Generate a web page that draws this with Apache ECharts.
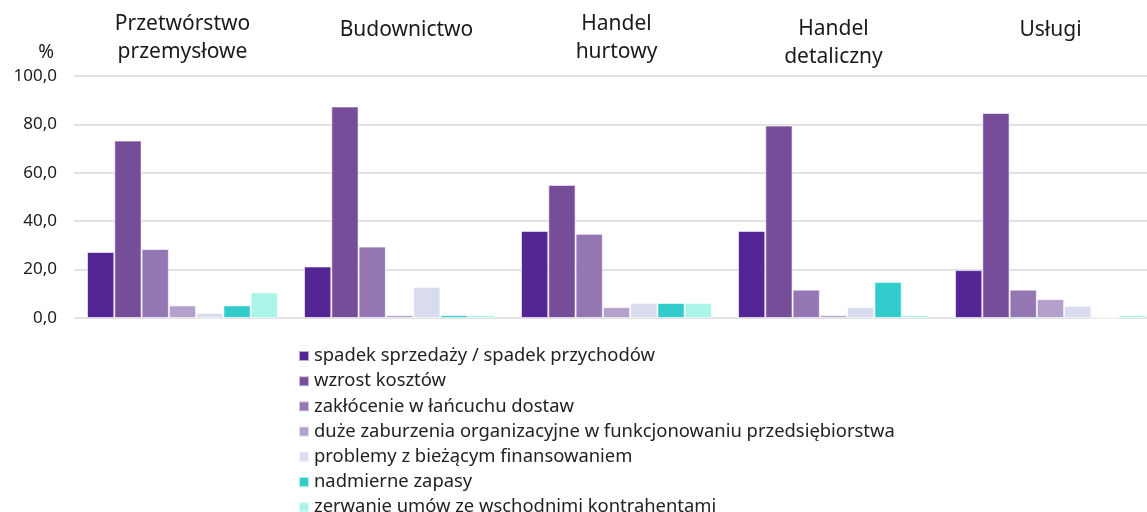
<!DOCTYPE html>
<html>
<head>
    <meta charset="utf-8">
    <title>Problemy przedsiębiorstw</title>
    <script src="https://cdn.jsdelivr.net/npm/echarts@6/dist/echarts.min.js"></script>
</head>
<body style="margin:0">
<div id="main" style="width:1147px;height:512px;"></div>
<script type="text/javascript">
    // sekcje (kategorie)
    var sekcje = ['Przetwórstwo\nprzemysłowe', 'Budownictwo', 'Handel\nhurtowy', 'Handel\ndetaliczny', 'Usługi'];

    // nazwy serii
    var nazwy = [
        'spadek sprzedaży / spadek przychodów',
        'wzrost kosztów',
        'zakłócenie w łańcuchu dostaw',
        'duże zaburzenia organizacyjne w funkcjonowaniu przedsiębiorstwa',
        'problemy z bieżącym finansowaniem',
        'nadmierne zapasy',
        'zerwanie umów ze wschodnimi kontrahentami'
    ];

    // wartości w %
    var spadekSprzedazy = [27.3, 21.3, 36.0, 36.0, 19.8];
    var wzrostKosztow = [73.3, 87.4, 55.0, 79.5, 84.7];
    var lancuchDostaw = [28.5, 29.5, 34.8, 11.7, 11.7];
    var zaburzeniaOrg = [5.2, 1.2, 4.5, 1.2, 7.8];
    var finansowanie = [2.1, 12.8, 6.2, 4.5, 5.1];
    var zapasy = [5.2, 1.2, 6.2, 14.9, 0];
    var zerwanieUmow = [10.6, 1.2, 6.2, 1.2, 1.2];

    var wartosci = [spadekSprzedazy, wzrostKosztow, lancuchDostaw, zaburzeniaOrg, finansowanie, zapasy, zerwanieUmow];
    var kolory = ['#542595', '#764d98', '#9477b2', '#b4a0cc', '#d9dbef', '#33cccc', '#aaf5e8'];

    var font = 'Noto Sans';
    var myChart = echarts.init(document.getElementById('main'));

    var series = nazwy.map(function (n, i) {
        return {
            name: n,
            type: 'bar',
            data: wartosci[i],
            itemStyle: {color: kolory[i], borderColor: 'rgba(255,255,255,0.6)', borderWidth: 1},
            barGap: '0%',
            barCategoryGap: '12%'
        };
    });

    // styl etykiet sekcji (pierwsza / druga linia)
    var styl = [['m', 'm'], ['b'], ['m', 'm'], ['d1', 'd2'], ['s']];
    var t = {fontFamily: font, fontSize: 21, color: '#1a1a1a'};

    myChart.setOption({
        animation: false,
        textStyle: {fontFamily: font},
        grid: {left: 74, right: -12, top: 76, bottom: 194, outerBoundsMode: 'none', containLabel: false},
        legend: {
            orient: 'vertical',
            left: 298,
            top: 347,
            height: 200,
            padding: 0,
            icon: 'rect',
            itemWidth: 10,
            itemHeight: 10,
            itemGap: 7.2,
            textStyle: {fontFamily: font, fontSize: 18.4, color: '#222', lineHeight: 18}
        },
        xAxis: {
            type: 'category',
            position: 'top',
            data: sekcje,
            axisLine: {show: false},
            axisTick: {show: false},
            axisLabel: {
                fontFamily: font,
                fontSize: 21,
                color: '#1a1a1a',
                verticalAlign: 'top',
                margin: 66,
                interval: 0,
                hideOverlap: false,
                formatter: function (v, i) {
                    return v.split('\n').map(function (l, j) { return '{' + styl[i][j] + '|' + l + '}'; }).join('\n');
                },
                rich: {
                    m: Object.assign({lineHeight: 28}, t),
                    s: Object.assign({lineHeight: 40}, t),
                    b: Object.assign({lineHeight: 40, padding: [0, 0, 0, 14]}, t),
                    d1: Object.assign({lineHeight: 38}, t),
                    d2: Object.assign({lineHeight: 18}, t)
                }
            }
        },
        yAxis: {
            type: 'value',
            min: 0,
            max: 100,
            interval: 20,
            name: '%',
            nameGap: 14,
            nameTextStyle: {fontFamily: font, fontSize: 19, color: '#1a1a1a', align: 'right', padding: [0, 20, 0, 0]},
            axisLine: {show: false},
            axisTick: {show: false},
            axisLabel: {
                fontFamily: font,
                fontSize: 17,
                color: '#1a1a1a',
                margin: 17,
                formatter: function (v) { return v.toFixed(1).replace('.', ','); }
            },
            splitLine: {lineStyle: {color: '#d9d9d9', width: 1.5}}
        },
        series: series
    });
</script>
</body>
</html>
